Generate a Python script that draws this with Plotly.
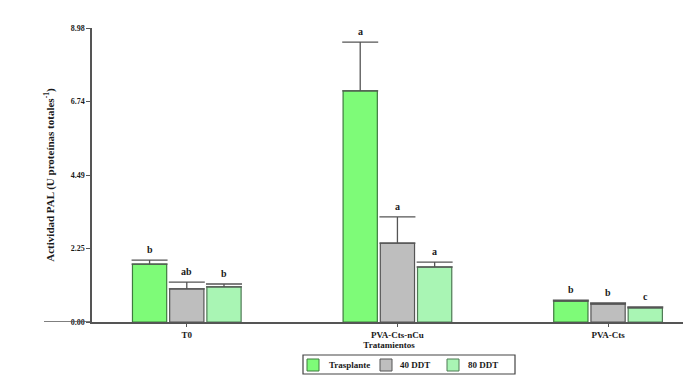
import plotly.graph_objects as go

categories = ["T0", "PVA-Cts-nCu", "PVA-Cts"]
series_names = ["Trasplante", "40 DDT", "80 DDT"]
values = {
    "Trasplante": [1.77, 7.06, 0.64],
    "40 DDT": [1.01, 2.41, 0.55],
    "80 DDT": [1.07, 1.68, 0.43],
}
errors = {
    "Trasplante": [0.12, 1.49, 0.03],
    "40 DDT": [0.21, 0.80, 0.03],
    "80 DDT": [0.09, 0.15, 0.03],
}
letters = {
    "Trasplante": ["b", "a", "b"],
    "40 DDT": ["ab", "a", "b"],
    "80 DDT": ["b", "a", "c"],
}
y_ticks = [0.00, 2.25, 4.49, 6.74, 8.98]

fill_colors = {"Trasplante": "#7EFB78", "40 DDT": "#BEBEBE", "80 DDT": "#A9F5B4"}
line_colors = {"Trasplante": "#3F7A3F", "40 DDT": "#555555", "80 DDT": "#4F7A55"}

FONT = "Liberation Serif, Times New Roman, serif"
TXT = "#1a1a1a"

# plot area in page pixels (page body has an 8px default margin)
PL, PR, PT, PB = 92, 686, 28, 322


def px_x(p):
    return (p - PL) / (PR - PL)


def px_y(p):
    return (PB - p) / (PB - PT)


fig = go.Figure()
for name in series_names:
    fig.add_trace(go.Bar(
        name=name, x=categories, y=values[name], showlegend=False,
        marker=dict(color=fill_colors[name], line=dict(color=line_colors[name], width=1.2)),
        error_y=dict(type="data", symmetric=False, array=errors[name],
                     arrayminus=[0] * len(categories), color="#555555",
                     thickness=1.3, width=18),
    ))

bargap = 0.47
slot = (1 - bargap) / len(series_names)
for i, name in enumerate(series_names):
    off = (i - 1) * slot
    for j, cat in enumerate(categories):
        fig.add_annotation(x=j + off, y=values[name][j] + errors[name][j],
                           text="<b>%s</b>" % letters[name][j], showarrow=False,
                           yanchor="bottom", yshift=3,
                           font=dict(family=FONT, size=10, color=TXT))

# x-axis line extension to the left of the y axis
fig.add_shape(type="line", xref="paper", yref="y", x0=px_x(44), x1=0, y0=0, y1=0,
              line=dict(color="#555555", width=1.5))

# legend box (drawn manually to match the original layout)
fig.add_shape(type="rect", xref="paper", yref="paper",
              x0=px_x(303), x1=px_x(515), y0=px_y(355), y1=px_y(374),
              line=dict(color="#444444", width=1.2), fillcolor="white")
legend_sq = [307, 380, 447]
legend_tx = [327, 398, 466]
for name, sx, tx in zip(series_names, legend_sq, legend_tx):
    fig.add_shape(type="rect", xref="paper", yref="paper",
                  x0=px_x(sx), x1=px_x(sx + 12), y0=px_y(359), y1=px_y(371),
                  line=dict(color=line_colors[name], width=1), fillcolor=fill_colors[name])
    fig.add_annotation(xref="paper", yref="paper", x=px_x(tx), y=px_y(365),
                       xanchor="left", yanchor="middle", showarrow=False,
                       text="<b>%s</b>" % name,
                       font=dict(family=FONT, size=9, color=TXT))

fig.update_layout(
    template="none",
    width=683, height=382,
    margin=dict(l=PL - 8, r=691 - PR, t=PT - 8, b=390 - PB, autoexpand=False),
    paper_bgcolor="white", plot_bgcolor="white",
    barmode="group", bargap=bargap, bargroupgap=0.08,
    font=dict(family=FONT, color=TXT),
    showlegend=False,
    xaxis=dict(range=[-0.45, 2.37], showline=True, linecolor="#555555", linewidth=1.5,
               showgrid=False, zeroline=False,
               ticks="outside", ticklen=3, tickcolor="#555555",
               tickfont=dict(family=FONT, size=9, color=TXT, weight="bold"),
               title=dict(text="<b>Tratamientos</b>", font=dict(family=FONT, size=9, color=TXT), standoff=1)),
    yaxis=dict(range=[0, 8.98], tickvals=y_ticks,
               ticktext=["<b>%.2f</b>" % v for v in y_ticks],
               showline=True, linecolor="#555555", linewidth=1.5, showgrid=False, zeroline=False,
               ticks="outside", ticklen=4, tickcolor="#555555",
               tickfont=dict(family=FONT, size=8, color=TXT),
               title=dict(text="<b>Actividad PAL (U proteínas totales<sup>-1</sup>)</b>",
                          font=dict(family=FONT, size=11, color=TXT), standoff=14)),
)

fig.write_html("out.html")
